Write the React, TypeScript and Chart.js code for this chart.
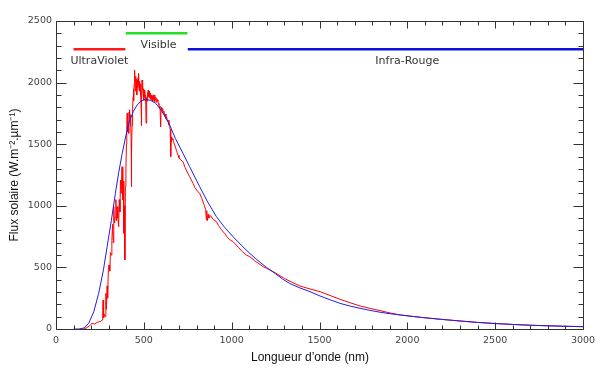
import { useEffect, useRef } from 'react';
import { Chart, registerables } from 'chart.js';

Chart.register(...registerables);

// Measured solar spectrum (red), wavelength in nm, flux in W.m-2.µm-1
const solarWavelength = [
  158, 175, 190, 205, 220, 235, 245, 255, 262, 266, 268, 271, 275, 280, 284, 287, 291, 294, 298, 302,
  306, 310, 314, 318, 322, 326, 329, 333, 338, 341, 345, 348, 352, 357, 360, 364, 367, 371, 376, 380,
  383, 386, 389, 392, 395, 398,
  401, 403, 405, 407, 409, 411, 414, 416, 418, 420, 422, 424, 426, 428, 429, 431, 433, 435, 437, 439,
  441, 443, 445, 447, 448, 450, 452, 454, 455, 457, 459, 461, 463, 465, 467, 469, 471, 473, 475, 477,
  479, 481, 483, 485, 486, 488, 490, 492, 494, 496, 498, 500, 502, 504, 506, 508, 510, 513, 515, 517,
  519, 521, 523, 525, 527, 530, 532, 534, 536, 538, 541, 543, 546, 548, 551, 553, 556, 558, 561, 563,
  566, 568, 571, 574, 577, 580, 583, 586, 589, 592, 596, 598, 601, 604, 607, 610, 614, 618, 622, 626,
  630, 634, 638, 643, 647, 650, 653, 655, 658, 662, 666, 670, 675, 681, 686, 690, 695, 700,
  710, 723, 735, 750, 761, 780,
  790, 805, 818, 830, 845, 852, 856, 858, 862, 866, 870, 880, 894, 913, 925, 940, 960, 975, 989, 1008,
  1040, 1060, 1084, 1103, 1130, 1150, 1179, 1200, 1230, 1250, 1275, 1300, 1340, 1389, 1446, 1503, 1560, 1617, 1674, 1731,
  1788, 1845, 1902, 1959, 2017, 2074, 2130, 2188, 2245, 2300, 2400, 2500, 2600, 2700, 2800, 2900, 3000,
];
const solarFlux = [
  0, 10, 25, 46, 40, 55, 58, 62, 73, 150, 235, 90, 120, 100, 290, 160, 350, 250, 480, 520,
  470, 620, 600, 720, 850, 700, 993, 860, 912, 1050, 880, 993, 900, 830, 1050, 950, 1209, 1100, 1317, 1050,
  1200, 777, 1000, 560, 1155, 1300,
  1500, 1650, 1751, 1600, 1720, 1650, 1588, 1760, 1700, 1780, 1650, 1740, 1700, 1500, 1155, 1450, 1650, 1720, 1778, 1880,
  1950, 1850, 1990, 2060, 2102, 1960, 2040, 1930, 2050, 1970, 2030, 1900, 2021, 1960, 2040, 1980, 2075, 1940, 2010, 1930,
  1990, 1967, 1900, 1780, 1650, 1900, 2021, 1940, 1980, 1900, 1950, 1859, 1930, 1880, 1940, 1850, 1900, 1670, 1800, 1880,
  1850, 1920, 1880, 1940, 1890, 1880, 1930, 1900, 1870, 1913, 1860, 1900, 1860, 1890, 1850, 1900, 1860, 1880, 1840, 1900,
  1860, 1880, 1840, 1870, 1850, 1860, 1820, 1830, 1790, 1810, 1640, 1780, 1800, 1770, 1790, 1750, 1770, 1730, 1745, 1710,
  1720, 1690, 1695, 1656, 1645, 1620, 1399, 1520, 1560, 1545, 1534, 1520, 1495, 1470, 1450, 1430, 1410, 1390,
  1372, 1358, 1310, 1265, 1236, 1183,
  1150, 1120, 1101, 1060, 1000, 970, 885, 960, 880, 930, 900, 920, 890, 871, 840, 810, 775, 745, 725, 709,
  660, 630, 600, 587, 555, 535, 506, 492, 470, 455, 432, 410, 382, 349, 325, 303, 272, 241, 213, 187,
  167, 149, 130, 114, 104, 95, 87, 79, 72, 65, 54, 45, 37, 31, 26, 22, 19,
];

// Black-body curve (blue)
const blackbodyWavelength = [
  100, 130, 160, 186, 215, 243, 270, 291, 315, 338, 357, 377, 395, 414, 440, 462, 485, 510, 540, 567,
  600, 647, 680, 723, 760, 818, 860, 913, 960, 1008, 1055, 1103, 1150, 1198, 1250, 1290, 1330, 1389, 1446, 1503,
  1560, 1617, 1674, 1731, 1788, 1845, 1902, 1959, 2074, 2188, 2300, 2400, 2500, 2600, 2700, 2800, 2900, 3000,
];
const blackbodyFlux = [
  0, 0, 8, 46, 140, 290, 480, 668, 880, 1101, 1270, 1426, 1550, 1670, 1765, 1818, 1852, 1864, 1855, 1832,
  1775, 1656, 1545, 1426, 1320, 1155, 1040, 912, 825, 749, 680, 614, 555, 500, 448, 405, 370, 333, 303, 268,
  237, 208, 186, 168, 151, 136, 124, 114, 95, 79, 65, 53, 44, 37, 30, 26, 22, 19,
];

// Spectral bands drawn at the top of the plot
const bandNames = ['UltraViolet', 'Visible', 'Infra-Rouge'];
const bandStart = [100, 397, 750];
const bandEnd = [395, 748, 3000];
const bandLevel = [2270, 2400, 2270];
const bandLabelX = [247, 584, 2000];
const bandLabelY = [2175, 2305, 2175];
const bandColors = ['#ff1a1a', '#22e022', '#1010dd'];

const xTickValues = [0, 500, 1000, 1500, 2000, 2500, 3000];
const yTickValues = [0, 500, 1000, 1500, 2000, 2500];
const xMinorStep = 100;
const yMinorStep = 100;

const xTitle = 'Longueur d\u2019onde (nm)';
const yTitle = 'Flux solaire (W.m\u207B\u00B2.\u00B5m\u207B\u00B9)';

const framePlugin = {
  id: 'idlFrame',
  afterDatasetsDraw(chart: any) {
    const { ctx, chartArea: a, scales } = chart;
    const xs = scales.x;
    const ys = scales.y;
    const left = Math.round(a.left) + 0.5;
    const right = Math.round(a.right) + 0.5;
    const top = Math.round(a.top) + 0.5;
    const bottom = Math.round(a.bottom) + 0.5;
    ctx.save();
    ctx.strokeStyle = '#333';
    ctx.lineWidth = 1;
    ctx.beginPath();
    ctx.rect(left, top, right - left, bottom - top);
    const xMax = xTickValues[xTickValues.length - 1];
    for (let v = xTickValues[0]; v <= xMax; v += xMinorStep) {
      const px = Math.round(xs.getPixelForValue(v)) + 0.5;
      const len = xTickValues.includes(v) ? 7 : 4;
      ctx.moveTo(px, bottom);
      ctx.lineTo(px, bottom - len);
      ctx.moveTo(px, top);
      ctx.lineTo(px, top + len);
    }
    const yMax = yTickValues[yTickValues.length - 1];
    for (let v = yTickValues[0]; v <= yMax; v += yMinorStep) {
      const py = Math.round(ys.getPixelForValue(v)) + 0.5;
      const len = yTickValues.includes(v) ? 10 : 5;
      ctx.moveTo(left, py);
      ctx.lineTo(left + len, py);
      ctx.moveTo(right, py);
      ctx.lineTo(right - len, py);
    }
    ctx.stroke();

    ctx.fillStyle = '#333';
    ctx.font = '11px "DejaVu Sans"';
    ctx.textAlign = 'center';
    ctx.textBaseline = 'middle';
    bandNames.forEach((name, i) => {
      ctx.fillText(name, xs.getPixelForValue(bandLabelX[i]), ys.getPixelForValue(bandLabelY[i]));
    });

    ctx.fillStyle = '#111';
    ctx.font = '12px "Liberation Sans"';
    ctx.fillText(xTitle, (a.left + a.right) / 2 - 9.5, 358);
    ctx.restore();
  },
};

export default function App() {
  const canvasRef = useRef<HTMLCanvasElement | null>(null);

  useEffect(() => {
    document.body.style.margin = '0';
    const canvas = canvasRef.current;
    if (!canvas) return;

    const datasets: any[] = [
      {
        label: 'Corps noir',
        data: blackbodyWavelength.map((x, i) => ({ x, y: blackbodyFlux[i] })),
        borderColor: '#1e1ee6',
        borderWidth: 1,
        pointRadius: 0,
        tension: 0,
        order: 0,
      },
      {
        label: 'Spectre solaire',
        data: solarWavelength.map((x, i) => ({ x, y: solarFlux[i] })),
        borderColor: '#ff0000',
        borderWidth: 1,
        pointRadius: 0,
        tension: 0,
        order: 1,
      },
    ];
    bandNames.forEach((name, i) => {
      datasets.push({
        label: name,
        data: [
          { x: bandStart[i], y: bandLevel[i] },
          { x: bandEnd[i], y: bandLevel[i] },
        ],
        borderColor: bandColors[i],
        borderWidth: 2.5,
        pointRadius: 0,
        order: 2,
      });
    });

    const chart = new Chart(canvas, {
      type: 'line',
      data: { datasets },
      options: {
        animation: false,
        responsive: false,
        maintainAspectRatio: false,
        layout: { padding: { left: 0, right: 21, top: 21, bottom: 0 } },
        plugins: {
          legend: { display: false },
          tooltip: { enabled: false },
        },
        scales: {
          x: {
            type: 'linear',
            min: 0,
            max: 3000,
            grid: { display: false, drawTicks: false },
            border: { display: false },
            afterBuildTicks: (scale: any) => {
              scale.ticks = xTickValues.map((value) => ({ value }));
            },
            afterFit: (scale: any) => {
              scale.height = 49;
            },
            ticks: {
              padding: 6,
              color: '#444',
              font: { family: 'DejaVu Sans', size: 9.5 },
              maxRotation: 0,
              callback: (v: any) => String(v),
            },
            title: { display: false },
          },
          y: {
            type: 'linear',
            min: 0,
            max: 2500,
            grid: { display: false, drawTicks: false },
            border: { display: false },
            afterBuildTicks: (scale: any) => {
              scale.ticks = yTickValues.map((value) => ({ value }));
            },
            afterFit: (scale: any) => {
              scale.width = 56;
            },
            ticks: {
              padding: 4,
              color: '#444',
              font: { family: 'DejaVu Sans', size: 9.5 },
              callback: (v: any) => String(v),
            },
            title: {
              display: true,
              text: yTitle,
              color: '#111',
              font: { family: 'Liberation Sans', size: 12 },
              padding: { top: 7, bottom: 0 },
            },
          },
        },
      },
      plugins: [framePlugin],
    });

    return () => chart.destroy();
  }, []);

  return (
    <div style={{ width: 604, height: 378 }}>
      <canvas ref={canvasRef} width={604} height={378} style={{ display: 'block' }} />
    </div>
  );
}
